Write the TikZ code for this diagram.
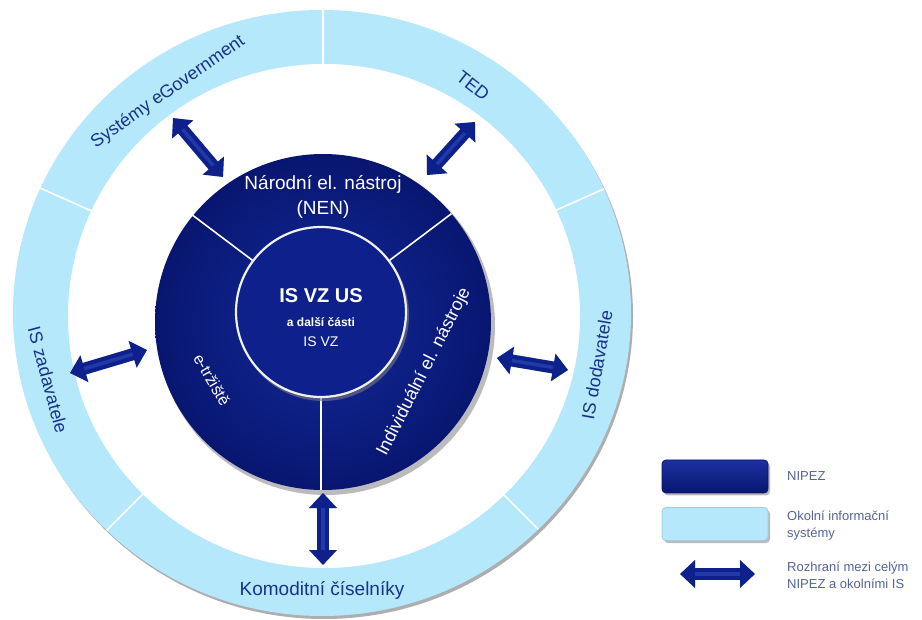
\documentclass[tikz,border=0pt]{standalone}
\usepackage{fontspec}
\setmainfont{Liberation Sans}
\usetikzlibrary{arrows.meta,calc}
\definecolor{navy}{RGB}{14,32,140}
\definecolor{navydark}{RGB}{8,22,112}
\definecolor{navyhi}{RGB}{34,58,168}
\definecolor{ringblue}{RGB}{181,232,250}
\definecolor{ringtext}{RGB}{25,50,140}
\definecolor{legtext}{RGB}{85,100,150}
\definecolor{shadowgray}{RGB}{120,120,125}
\begin{document}
\begin{tikzpicture}[x=1pt,y=-1pt,
  ringlabel/.style={text=ringtext, font=\fontsize{18}{20}\selectfont, inner sep=0pt},
  disclabel/.style={text=white, font=\fontsize{19}{25}\selectfont, align=center, inner sep=0pt},
  divider/.style={white, line width=1.6pt},
  ifacetip/.style={{Triangle[width=27pt,length=15pt]}-{Triangle[width=27pt,length=15pt]}},
  iface/.style={ifacetip, line width=12pt, draw=navy},
  ifaceshadow/.style={ifacetip, line width=12pt, draw=shadowgray, opacity=0.55, shift={(2,3)}},
  ifacehi/.style={line width=3.5pt, draw=navyhi, shorten <=15pt, shorten >=15pt},
  legtxt/.style={text=legtext, font=\fontsize{13}{17}\selectfont, anchor=west, align=left, inner sep=0pt},
  legbox/.style={minimum width=106pt, minimum height=33pt, rounded corners=4pt, inner sep=0pt}]
\useasboundingbox (0,0) rectangle (922,620);
\fill[white] (0,0) rectangle (922,620);

% ---- outer ring of surrounding systems
\fill[shadowgray, opacity=0.6] (324,316) ellipse [x radius=309, y radius=303];
\fill[ringblue] (322,313) ellipse [x radius=309, y radius=303];
\begin{scope}
  \clip (322,313) ellipse [x radius=309, y radius=303];
  \coordinate (rc) at (323,314);
  \foreach \a in {90,24,-45,-135,156}
    \draw[divider] ($(rc)+(\a:230pt)$) -- ($(rc)+(\a:330pt)$);
\end{scope}
\fill[white] (324,316) ellipse [x radius=256, y radius=252];

% ---- NIPEZ disc
\fill[shadowgray, opacity=0.5] (326,326) circle [radius=169];
\shade[inner color={rgb,255:red,20;green,42;blue,155}, outer color=navydark] (323,322) circle [radius=168];
\coordinate (ic) at (321,312);
\begin{scope}
  \clip (323,322) circle [radius=168];
  \foreach \a in {143,37,-90}
    \draw[divider] ($(ic)+(\a:84pt)$) -- ($(ic)+(\a:200pt)$);
\end{scope}
\fill[shadowgray, opacity=0.6] (323,315) circle [radius=86];
\fill[navy, draw=white!88!gray, line width=2.2pt] (ic) circle [radius=85];

% ---- disc labels
\node[disclabel] (nen) at (323,197) {Národní el. nástroj\\(NEN)};
\node[disclabel, font=\bfseries\fontsize{20}{22}\selectfont] (isvzus) at (321,296) {IS VZ US};
\node[disclabel, font=\bfseries\fontsize{12}{14}\selectfont] (dalsi) at (321,322) {a další části};
\node[disclabel, font=\fontsize{14}{16}\selectfont] (isvz) at (321,342) {IS VZ};
\node[disclabel, font=\fontsize{16}{18}\selectfont, rotate=-60] (etrz) at (212,380) {e-tržiště};
\node[disclabel, font=\fontsize{18}{20}\selectfont, rotate=63] (indiv) at (424,372) {Individuální el. nástroje};

% ---- ring labels
\node[ringlabel, rotate=35] (egov) at (168,92) {Systémy eGovernment};
\node[ringlabel, rotate=-38] (ted) at (473,86) {TED};
\node[ringlabel, rotate=80] (dod) at (597,365) {IS dodavatele};
\node[ringlabel, rotate=-75] (zad) at (48,380) {IS zadavatele};
\node[ringlabel, font=\fontsize{19}{21}\selectfont] (kom) at (322,590) {Komoditní číselníky};

% ---- interface arrows
\coordinate (a1o) at (173,118); \coordinate (a1i) at (223,177);
\coordinate (a2o) at (475,122); \coordinate (a2i) at (427,175);
\coordinate (a3o) at (70,373);  \coordinate (a3i) at (147,350);
\coordinate (a4i) at (497,358); \coordinate (a4o) at (568,370);
\coordinate (a5i) at (323,493); \coordinate (a5o) at (323,565);
\foreach \p/\q in {a1o/a1i,a2o/a2i,a3o/a3i,a4i/a4o,a5i/a5o}{
  \draw[ifaceshadow] (\p) -- (\q);
  \draw[iface] (\p) -- (\q);
  \draw[ifacehi] (\p) -- (\q);
}

% ---- legend
\node[legbox, fill=shadowgray, opacity=0.5] at (717,479) {};
\node[legbox, top color={rgb,255:red,28;green,48;blue,160}, bottom color=navydark, draw=navydark, line width=0.8pt] (lgnipez) at (715,476.5) {};
\node[legbox, fill=shadowgray, opacity=0.5] at (717,526.5) {};
\node[legbox, fill=ringblue, draw={rgb,255:red,160;green,205;blue,225}, line width=0.8pt] (lgokol) at (715,524) {};
\coordinate (la1) at (680,574); \coordinate (la2) at (755,574);
\draw[ifaceshadow] (la1) -- (la2);
\draw[iface] (la1) -- (la2);
\draw[ifacehi] (la1) -- (la2);
\node[legtxt] (t1) at (787,476) {NIPEZ};
\node[legtxt] (t2) at (787,526) {Okolní informační\\systémy};
\node[legtxt] (t3) at (787,575) {Rozhraní mezi celým\\NIPEZ a okolními IS};
\end{tikzpicture}
\end{document}
